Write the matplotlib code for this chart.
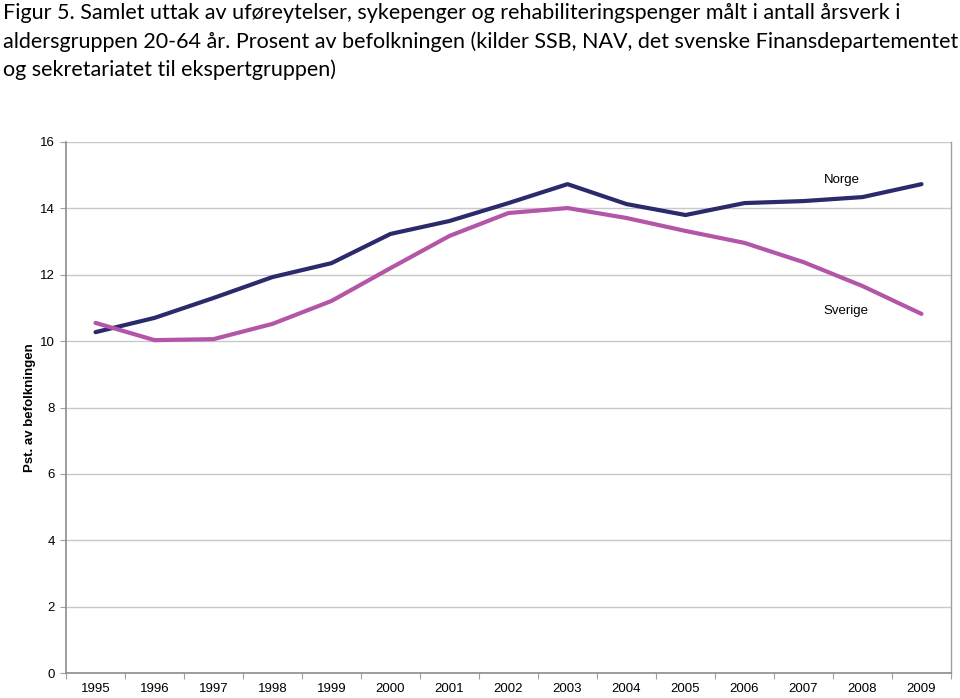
import matplotlib
matplotlib.use("Agg")
import matplotlib.pyplot as plt
import numpy as np

years = ["1995", "1996", "1997", "1998", "1999", "2000", "2001", "2002",
         "2003", "2004", "2005", "2006", "2007", "2008", "2009"]
norge = [10.27, 10.70, 11.30, 11.93, 12.35, 13.23, 13.62, 14.16,
         14.73, 14.13, 13.80, 14.16, 14.22, 14.34, 14.73]
sverige = [10.55, 10.03, 10.06, 10.52, 11.21, 12.20, 13.17, 13.86,
           14.01, 13.71, 13.32, 12.96, 12.38, 11.66, 10.82]
yticks = [0, 2, 4, 6, 8, 10, 12, 14, 16]

title_lines = [
    "Figur 5. Samlet uttak av uføreytelser, sykepenger og rehabiliteringspenger målt i antall årsverk i",
    "aldersgruppen 20-64 år. Prosent av befolkningen (kilder SSB, NAV, det svenske Finansdepartementet",
    "og sekretariatet til ekspertgruppen)",
]

W, H = 960, 698
fig = plt.figure(figsize=(W / 100, H / 100), dpi=100)
ax = fig.add_axes([66 / W, 1 - 673 / H, (951 - 66) / W, (673 - 142) / H])

x = np.arange(len(years))
ax.plot(x, norge, color="#2A2A6C", lw=3.0, solid_capstyle="round", zorder=3)
ax.plot(x, sverige, color="#B456A8", lw=3.0, solid_capstyle="round", zorder=3)

ax.set_xlim(-0.5, len(years) - 0.5)
ax.set_ylim(0, 16)
ax.set_yticks(yticks)
ax.set_yticklabels([str(v) for v in yticks], fontsize=9.5, family="Liberation Sans")
ax.set_xticks(x)
ax.set_xticklabels(years, fontsize=9.5, family="Liberation Sans")
ax.set_xticks(np.arange(-0.5, len(years)), minor=True)
ax.tick_params(axis="x", which="major", length=0, pad=7)
ax.tick_params(axis="x", which="minor", length=4, color="#A0A0A0", width=0.8)
ax.tick_params(axis="y", which="major", length=4, color="#A0A0A0", width=0.8, pad=4)

ax.grid(axis="y", color="#C8C8C8", lw=1.0, zorder=0)
for s in ["left", "bottom"]:
    ax.spines[s].set_color("#8C8C8C")
    ax.spines[s].set_linewidth(1.2)
ax.spines["top"].set_visible(False)
ax.spines["right"].set_color("#A0A0A0")
ax.spines["right"].set_linewidth(1.0)

ax.set_ylabel("Pst. av befolkningen", fontsize=9.5, fontweight="bold",
              family="Liberation Sans", labelpad=3)

ax.text(12.65, 14.85, "Norge", fontsize=9.5, family="Liberation Sans", ha="center", va="center")
ax.text(12.72, 10.9, "Sverige", fontsize=9.5, family="Liberation Sans", ha="center", va="center")

baselines = [19, 48, 76]
for line, b in zip(title_lines, baselines):
    fig.text(3 / W, 1 - b / H, line, fontsize=15.5, family="Lato",
             ha="left", va="baseline", color="#000000")

fig.savefig("out.png", dpi=100)
